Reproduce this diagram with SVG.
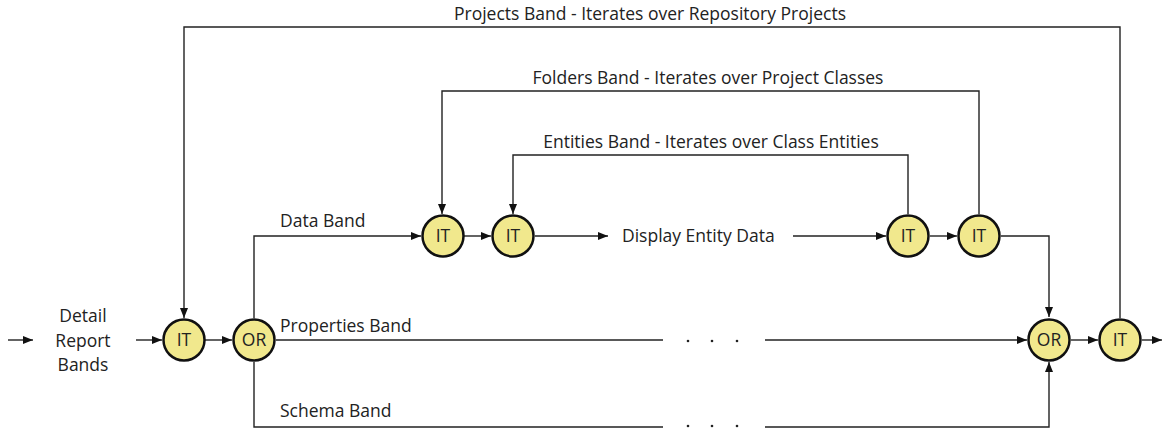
<svg xmlns="http://www.w3.org/2000/svg" width="1162" height="429" viewBox="0 0 1162 429">
<style>
.n{fill:#f1e88d;stroke:#111;stroke-width:2.5}
.t{font-family:"Open Sans","Noto Sans",sans-serif;font-size:17.5px;fill:#222}
.c{text-anchor:middle}
.w{fill:none;stroke:#222;stroke-width:1.4}
.d{fill:#222}
</style>
<defs>
<marker id="a" viewBox="0 0 10 10" refX="10" refY="5" markerWidth="10" markerHeight="10" markerUnits="userSpaceOnUse" orient="auto">
<path d="M0,1 L10,5 L0,9 Z" fill="#111"/>
</marker>
</defs>
<rect width="1162" height="429" fill="#fff"/>
<g id="connectors">
<path class="w" d="M8,340 H33" marker-end="url(#a)"/>
<path class="w" d="M136,340 H162" marker-end="url(#a)"/>
<path class="w" d="M205,340 H232" marker-end="url(#a)"/>
<path class="w" d="M276,340 H663"/>
<path class="w" d="M765,340 H1027" marker-end="url(#a)"/>
<path class="w" d="M254,318 V236 H421" marker-end="url(#a)"/>
<path class="w" d="M254,362 V427 H663"/>
<path class="w" d="M765,427 H1049 V362" marker-end="url(#a)"/>
<path class="w" d="M464,236 H491" marker-end="url(#a)"/>
<path class="w" d="M535,236 H608" marker-end="url(#a)"/>
<path class="w" d="M793,236 H886" marker-end="url(#a)"/>
<path class="w" d="M930,236 H957" marker-end="url(#a)"/>
<path class="w" d="M1001,236 H1049 V317" marker-end="url(#a)"/>
<path class="w" d="M1071,340 H1098" marker-end="url(#a)"/>
<path class="w" d="M1142,340 H1162" marker-end="url(#a)"/>
<path class="w" d="M1120,318 V27 H184 V318" marker-end="url(#a)"/>
<path class="w" d="M979,214 V91 H442 V214" marker-end="url(#a)"/>
<path class="w" d="M908,214 V155 H513 V214" marker-end="url(#a)"/>
<g class="d">
<circle cx="688" cy="341" r="1.3"/><circle cx="712" cy="341" r="1.3"/><circle cx="737" cy="341" r="1.3"/>
<circle cx="688" cy="426" r="1.3"/><circle cx="712" cy="426" r="1.3"/><circle cx="737" cy="426" r="1.3"/>
</g>
</g>
<g id="labels">
<text class="t c" x="650" y="20">Projects Band - Iterates over Repository Projects</text>
<text class="t c" x="708" y="84">Folders Band - Iterates over Project Classes</text>
<text class="t c" x="711" y="148">Entities Band - Iterates over Class Entities</text>
<text class="t" x="280" y="227">Data Band</text>
<text class="t" x="280" y="332">Properties Band</text>
<text class="t" x="280" y="417">Schema Band</text>
<text class="t" x="622" y="242">Display Entity Data</text>
<text class="t c" x="83" y="322">Detail</text>
<text class="t c" x="83" y="347">Report</text>
<text class="t c" x="83" y="371">Bands</text>
</g>
<g id="it1"><circle class="n" cx="184" cy="340" r="20.5"/><text class="t c" x="184" y="346">IT</text></g>
<g id="or1"><circle class="n" cx="254" cy="340" r="20.5"/><text class="t c" x="254" y="346">OR</text></g>
<g id="it2"><circle class="n" cx="443" cy="236" r="20.5"/><text class="t c" x="443" y="242">IT</text></g>
<g id="it3"><circle class="n" cx="513" cy="236" r="20.5"/><text class="t c" x="513" y="242">IT</text></g>
<g id="it4"><circle class="n" cx="908" cy="236" r="20.5"/><text class="t c" x="908" y="242">IT</text></g>
<g id="it5"><circle class="n" cx="979" cy="236" r="20.5"/><text class="t c" x="979" y="242">IT</text></g>
<g id="or2"><circle class="n" cx="1049" cy="340" r="20.5"/><text class="t c" x="1049" y="346">OR</text></g>
<g id="it6"><circle class="n" cx="1120" cy="340" r="20.5"/><text class="t c" x="1120" y="346">IT</text></g>
</svg>
